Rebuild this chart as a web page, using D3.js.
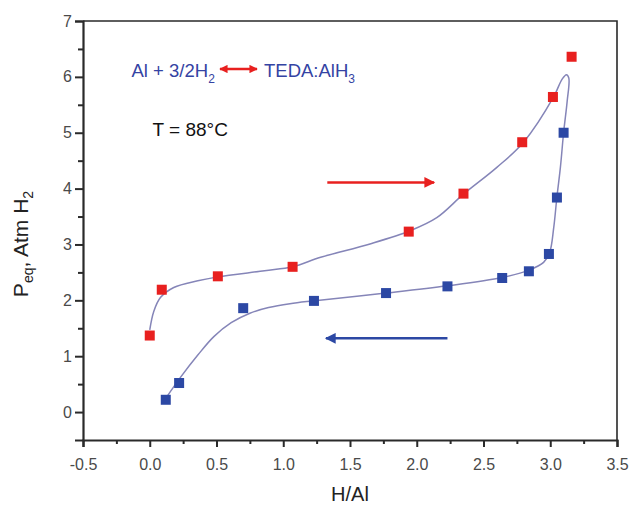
<!DOCTYPE html>
<html>
<head>
<meta charset="utf-8">
<script src="https://cdn.jsdelivr.net/npm/d3@7"></script>
<style>
  html, body { margin: 0; padding: 0; background: #fff; }
  svg { display: block; font-family: "Liberation Sans", Arial, sans-serif; }
</style>
</head>
<body>
<svg id="chart" width="629" height="506"></svg>
<script>
// ---- data ----
const xTicks = [-0.5, 0.0, 0.5, 1.0, 1.5, 2.0, 2.5, 3.0, 3.5];
const xTickLabels = ["-0.5", "0.0", "0.5", "1.0", "1.5", "2.0", "2.5", "3.0", "3.5"];
const yTicks = [0, 1, 2, 3, 4, 5, 6, 7];
const yTickLabels = ["0", "1", "2", "3", "4", "5", "6", "7"];
const xMinor = [-0.25, 0.25, 0.75, 1.25, 1.75, 2.25, 2.75, 3.25];
const yMinor = [0.5, 1.5, 2.5, 3.5, 4.5, 5.5, 6.5];

// absorption (red) points: H/Al, P (atm)
const absX = [0.00, 0.09, 0.51, 1.07, 1.94, 2.35, 2.79, 3.02, 3.16];
const absY = [1.37, 2.19, 2.43, 2.60, 3.23, 3.91, 4.83, 5.64, 6.36];
// desorption (blue) points
const desX = [0.12, 0.22, 0.70, 1.23, 1.77, 2.23, 2.64, 2.84, 2.99, 3.05, 3.10];
const desY = [0.22, 0.52, 1.86, 1.99, 2.13, 2.25, 2.40, 2.52, 2.83, 3.84, 5.00];

// fitted guide curve (hysteresis loop)
const fitX = [0.00, 0.03, 0.08, 0.18, 0.36, 0.51, 0.86, 1.07, 1.28, 1.65, 1.95, 2.15, 2.35, 2.60, 2.80, 3.026, 3.089, 3.121, 3.139, 3.127, 3.10, 3.076, 3.05, 3.026, 2.996, 2.95, 2.84, 2.64, 2.23, 1.77, 1.22, 1.05, 0.89, 0.75, 0.61, 0.48, 0.36, 0.23, 0.13];
const fitY = [1.47, 1.80, 2.05, 2.23, 2.35, 2.42, 2.53, 2.60, 2.77, 3.01, 3.245, 3.48, 3.90, 4.38, 4.83, 5.645, 5.96, 6.04, 5.98, 5.57, 5.00, 4.38, 3.85, 3.30, 2.86, 2.68, 2.54, 2.41, 2.26, 2.13, 1.99, 1.94, 1.87, 1.77, 1.60, 1.35, 1.02, 0.62, 0.28];

// direction arrows (data coords): [x1, x2, y]
const absArrow = [1.33, 2.13, 4.11];
const desArrow = [2.23, 1.32, 1.32];

// ---- layout ----
const W = 629, H = 506;
const margin = { left: 83, right: 12, top: 21, bottom: 66 };
const svg = d3.select("#chart");
const x = d3.scaleLinear().domain([-0.5, 3.5]).range([margin.left, W - margin.right]);
const y = d3.scaleLinear().domain([-0.5, 7]).range([H - margin.bottom, margin.top]);

const RED = "#e8201f", BLUE = "#2c48a4", TXTBLUE = "#3443a3", CURVE = "#8585b8";
const AXC = "#2a2a2a";

const defs = svg.append("defs");
function marker(id, color, w, h) {
  defs.append("marker").attr("id", id).attr("viewBox", "0 0 10 10")
    .attr("refX", 9).attr("refY", 5).attr("markerWidth", w).attr("markerHeight", h)
    .attr("orient", "auto-start-reverse").attr("markerUnits", "strokeWidth")
    .append("path").attr("d", "M0,0 L10,5 L0,10 Z").attr("fill", color);
}
marker("ahR", RED, 5, 4.5); marker("ahB", BLUE, 5, 4.5); marker("ahS", RED, 4, 3.5);

// frame (top, right)
svg.append("path")
  .attr("d", `M${x(-0.5)},${y(7)} H${x(3.5)} V${y(-0.5)}`)
  .attr("fill", "none").attr("stroke", AXC).attr("stroke-width", 1.6);

// axes
const xAxis = svg.append("g").attr("transform", `translate(0,${y(-0.5)})`)
  .call(d3.axisBottom(x).tickValues(xTicks).tickFormat((d, i) => xTickLabels[i]).tickSize(7).tickPadding(12));
const xMin = svg.append("g").attr("transform", `translate(0,${y(-0.5)})`)
  .call(d3.axisBottom(x).tickValues(xMinor).tickFormat("").tickSize(4));
const yAxis = svg.append("g").attr("transform", `translate(${x(-0.5)},0)`)
  .call(d3.axisLeft(y).tickValues(yTicks).tickFormat((d, i) => yTickLabels[i]).tickSize(8).tickPadding(3));
const yMin = svg.append("g").attr("transform", `translate(${x(-0.5)},0)`)
  .call(d3.axisLeft(y).tickValues(yMinor).tickFormat("").tickSize(5));

[xAxis, xMin, yAxis, yMin].forEach(g => {
  g.select(".domain").attr("stroke", AXC).attr("stroke-width", 2.2);
  g.selectAll(".tick line").attr("stroke", AXC).attr("stroke-width", 2);
  g.selectAll(".tick text").attr("fill", "#4a4a4a").attr("font-size", 16)
    .attr("font-family", "'Liberation Sans', Arial, sans-serif");
});
xMin.select(".domain").remove(); yMin.select(".domain").remove();

// fitted curve
const fitPts = fitX.map((d, i) => [d, fitY[i]]);
svg.append("path").datum(fitPts)
  .attr("d", d3.line().x(d => x(d[0])).y(d => y(d[1])).curve(d3.curveCatmullRom.alpha(0.5)))
  .attr("fill", "none").attr("stroke", CURVE).attr("stroke-width", 1.5);

// markers
const S = 10;
svg.append("g").selectAll("rect").data(absX.map((d, i) => [d, absY[i]])).join("rect")
  .attr("x", d => x(d[0]) - S / 2).attr("y", d => y(d[1]) - S / 2)
  .attr("width", S).attr("height", S).attr("fill", RED);
svg.append("g").selectAll("rect").data(desX.map((d, i) => [d, desY[i]])).join("rect")
  .attr("x", d => x(d[0]) - S / 2).attr("y", d => y(d[1]) - S / 2)
  .attr("width", S).attr("height", S).attr("fill", BLUE);

// direction arrows
svg.append("line").attr("x1", x(absArrow[0])).attr("x2", x(absArrow[1]))
  .attr("y1", y(absArrow[2])).attr("y2", y(absArrow[2]))
  .attr("stroke", RED).attr("stroke-width", 2.4).attr("marker-end", "url(#ahR)");
svg.append("line").attr("x1", x(desArrow[0])).attr("x2", x(desArrow[1]))
  .attr("y1", y(desArrow[2])).attr("y2", y(desArrow[2]))
  .attr("stroke", BLUE).attr("stroke-width", 2.4).attr("marker-end", "url(#ahB)");

// reaction annotation
const t1 = svg.append("text").attr("x", 131.5).attr("y", 76.7)
  .attr("fill", TXTBLUE).attr("font-size", 18.5);
t1.append("tspan").text("Al + 3/2H");
t1.append("tspan").attr("font-size", 12).attr("dy", 6).text("2");
svg.append("line").attr("x1", 220).attr("x2", 257).attr("y1", 69).attr("y2", 69)
  .attr("stroke", RED).attr("stroke-width", 2.4)
  .attr("marker-start", "url(#ahS)").attr("marker-end", "url(#ahS)");
const t2 = svg.append("text").attr("x", 264).attr("y", 76.7)
  .attr("fill", TXTBLUE).attr("font-size", 18.5);
t2.append("tspan").text("TEDA:AlH");
t2.append("tspan").attr("font-size", 12).attr("dy", 6).text("3");

svg.append("text").attr("x", 152.5).attr("y", 136).attr("fill", "#111")
  .attr("font-size", 19).text("T = 88°C");

// axis titles
svg.append("text").attr("x", x(1.5)).attr("y", 501).attr("text-anchor", "middle")
  .attr("font-size", 20).attr("fill", "#222").text("H/Al");
const yl = svg.append("text").attr("transform", "translate(28,244) rotate(-90)")
  .attr("text-anchor", "middle").attr("font-size", 21).attr("fill", "#222");
yl.append("tspan").text("P");
yl.append("tspan").attr("font-size", 14).attr("dy", 5).text("eq");
yl.append("tspan").attr("dy", -5).text(", Atm H");
yl.append("tspan").attr("font-size", 14).attr("dy", 5).text("2");
</script>
</body>
</html>
